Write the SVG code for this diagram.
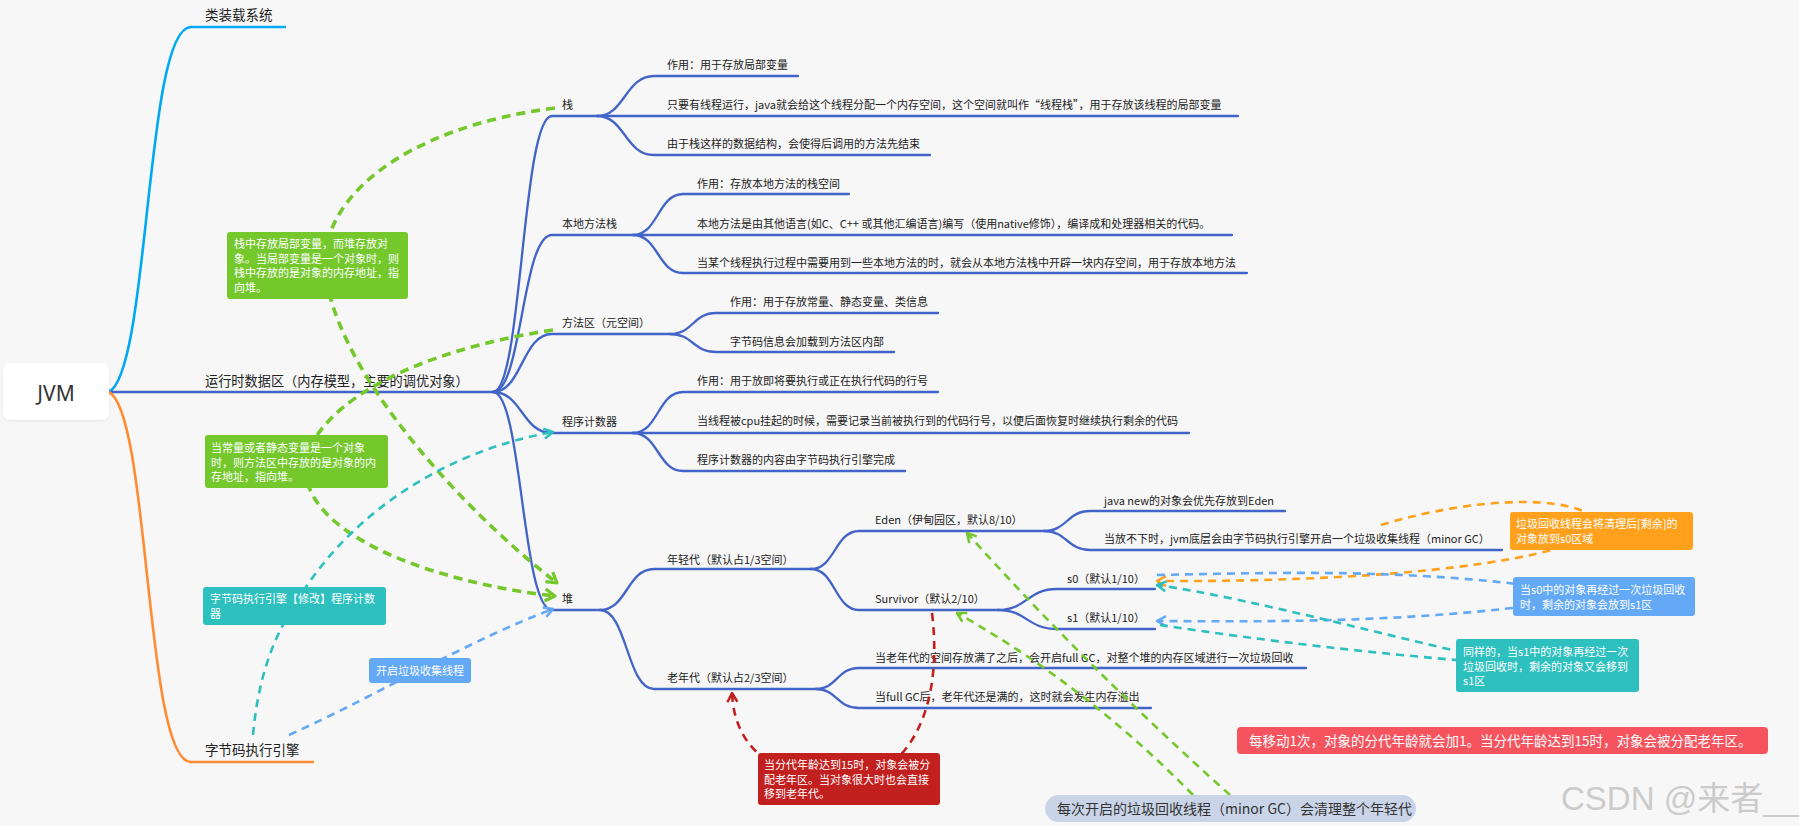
<svg xmlns="http://www.w3.org/2000/svg" width="1799" height="826" viewBox="0 0 1799 826">
<style>
text{font-family:"Noto Sans CJK SC","Noto Sans",sans-serif;fill:#222}
.l1{font-size:13.5px}
.l2{font-size:11px}
.nt{font-size:11px;fill:#fff}
.br{fill:none;stroke:#4264c8;stroke-width:2.3;stroke-linecap:round}
.rel{fill:none;stroke-width:2.6;stroke-dasharray:8 6}
.g{stroke:#74c82c}
.gt{stroke:#74c82c;stroke-width:3.6;stroke-dasharray:9 6}
.tl{stroke:#2ebfbf}
.lb{stroke:#63a9f6}
.rd{stroke:#c21f1f}
.or{stroke:#ffa11c}
</style>
<defs>
<marker id="mg" viewBox="0 0 16 16" refX="13" refY="8" markerWidth="16" markerHeight="16" markerUnits="userSpaceOnUse" orient="auto"><path d="M3,2 L13,8 L3,14" fill="none" stroke="#74c82c" stroke-width="3.2" stroke-linejoin="round"/></marker>
<marker id="mg2" viewBox="0 0 14 14" refX="12" refY="7" markerWidth="14" markerHeight="14" markerUnits="userSpaceOnUse" orient="auto"><path d="M3,2 L12,7 L3,12" fill="none" stroke="#74c82c" stroke-width="2.5" stroke-linejoin="round"/></marker>
<marker id="mt" viewBox="0 0 14 14" refX="12" refY="7" markerWidth="14" markerHeight="14" markerUnits="userSpaceOnUse" orient="auto"><path d="M3,2 L12,7 L3,12" fill="none" stroke="#2ebfbf" stroke-width="2.5" stroke-linejoin="round"/></marker>
<marker id="mb" viewBox="0 0 14 14" refX="12" refY="7" markerWidth="14" markerHeight="14" markerUnits="userSpaceOnUse" orient="auto"><path d="M3,2 L12,7 L3,12" fill="none" stroke="#63a9f6" stroke-width="2.5" stroke-linejoin="round"/></marker>
<marker id="mr" viewBox="0 0 14 14" refX="12" refY="7" markerWidth="14" markerHeight="14" markerUnits="userSpaceOnUse" orient="auto"><path d="M3,2 L12,7 L3,12" fill="none" stroke="#c21f1f" stroke-width="2.5" stroke-linejoin="round"/></marker>
<marker id="mo" viewBox="0 0 14 14" refX="12" refY="7" markerWidth="14" markerHeight="14" markerUnits="userSpaceOnUse" orient="auto"><path d="M3,2 L12,7 L3,12" fill="none" stroke="#ffa11c" stroke-width="2.5" stroke-linejoin="round"/></marker>
<filter id="sh" x="-10%" y="-10%" width="120%" height="130%"><feDropShadow dx="0" dy="1" stdDeviation="1.2" flood-color="#000" flood-opacity="0.08"/></filter>
</defs>
<rect x="0" y="0" width="1799" height="826" fill="#f7f7f7"/>

<g id="connectors">
<path d="M109,392 C150,370 145,27 191,27 L286,27" fill="none" stroke="#00a9f2" stroke-width="2.6"/>
<path d="M109,392 L493,392" class="br" stroke-width="2.6"/>
<path d="M109,392 C150,414 145,762 191,762 L314,762" fill="none" stroke="#ff8b33" stroke-width="2.6"/>
<path d="M493,392 C522,392 522,116 552,116 L597,116" class="br"/>
<path d="M493,392 C522,392 522,235 552,235 L633,235" class="br"/>
<path d="M493,392 C522,392 522,334 552,334 L670,334" class="br"/>
<path d="M493,392 C522,392 522,433 552,433 L633,433" class="br"/>
<path d="M493,392 C522,392 522,610 552,610 L600,610" class="br"/>
<path d="M597,116 C625,116 625,76 654,76 L798,76" class="br"/>
<path d="M597,116 L1238,116" class="br"/>
<path d="M597,116 C625,116 625,155 654,155 L930,155" class="br"/>
<path d="M633,235 C658,235 658,194 683,194 L849,194" class="br"/>
<path d="M633,235 L1232,235" class="br"/>
<path d="M633,235 C658,235 658,273 683,273 L1247,273" class="br"/>
<path d="M670,334 C693,334 693,313 716,313 L938,313" class="br"/>
<path d="M670,334 C693,334 693,352 716,352 L894,352" class="br"/>
<path d="M633,433 C658,433 658,392 683,392 L938,392" class="br"/>
<path d="M633,433 L1189,433" class="br"/>
<path d="M633,433 C658,433 658,471 683,471 L905,471" class="br"/>
<path d="M600,610 C627,610 627,569 654,569 L811,569" class="br"/>
<path d="M600,610 C627,610 627,689 654,689 L816,689" class="br"/>
<path d="M811,569 C835,569 835,531 859,531 L1044,531" class="br"/>
<path d="M811,569 C835,569 835,610 859,610 L998,610" class="br"/>
<path d="M816,689 C837,689 837,668 859,668 L1306,668" class="br"/>
<path d="M816,689 C837,689 837,708 859,708 L1151,708" class="br"/>
<path d="M1044,531 C1067,531 1067,511 1090,511 L1285,511" class="br"/>
<path d="M1044,531 C1067,531 1067,550 1090,550 L1502,550" class="br"/>
<path d="M998,610 C1027,610 1027,589 1057,589 L1155,589" class="br"/>
<path d="M998,610 C1027,610 1027,629 1057,629 L1155,629" class="br"/>
</g>

<g id="n-jvm"><rect x="3" y="363" width="106" height="57" rx="7" fill="#fff" filter="url(#sh)"/><text x="56" y="401" font-size="21" text-anchor="middle" style="font-family:'Noto Sans','Liberation Sans',sans-serif;fill:#333">JVM</text></g>
<g id="n-classload"><text class="l1" x="205" y="20">类装载系统</text></g>
<g id="n-runtime"><text class="l1" x="205" y="386" style="font-size:13.2px">运行时数据区（内存模型，主要的调优对象）</text></g>
<g id="n-engine"><text class="l1" x="205" y="755">字节码执行引擎</text></g>
<g id="n-stack"><text class="l2" x="562" y="109">栈</text></g>
<g id="n-native"><text class="l2" x="562" y="228">本地方法栈</text></g>
<g id="n-method"><text class="l2" x="562" y="327">方法区（元空间）</text></g>
<g id="n-pc"><text class="l2" x="562" y="426">程序计数器</text></g>
<g id="n-heap"><text class="l2" x="562" y="603">堆</text></g>
<g id="n-s1"><text class="l2" x="667" y="69">作用：用于存放局部变量</text></g>
<g id="n-s2"><text class="l2" x="667" y="109">只要有线程运行，java就会给这个线程分配一个内存空间，这个空间就叫作“线程栈”，用于存放该线程的局部变量</text></g>
<g id="n-s3"><text class="l2" x="667" y="148">由于栈这样的数据结构，会使得后调用的方法先结束</text></g>
<g id="n-na1"><text class="l2" x="697" y="188">作用：存放本地方法的栈空间</text></g>
<g id="n-na2"><text class="l2" x="697" y="228">本地方法是由其他语言(如C、C++ 或其他汇编语言)编写（使用native修饰），编译成和处理器相关的代码。</text></g>
<g id="n-na3"><text class="l2" x="697" y="267">当某个线程执行过程中需要用到一些本地方法的时，就会从本地方法栈中开辟一块内存空间，用于存放本地方法</text></g>
<g id="n-m1"><text class="l2" x="730" y="306">作用：用于存放常量、静态变量、类信息</text></g>
<g id="n-m2"><text class="l2" x="730" y="346">字节码信息会加载到方法区内部</text></g>
<g id="n-p1"><text class="l2" x="697" y="385">作用：用于放即将要执行或正在执行代码的行号</text></g>
<g id="n-p2"><text class="l2" x="697" y="425">当线程被cpu挂起的时候，需要记录当前被执行到的代码行号，以便后面恢复时继续执行剩余的代码</text></g>
<g id="n-p3"><text class="l2" x="697" y="464">程序计数器的内容由字节码执行引擎完成</text></g>
<g id="n-young"><text class="l2" x="667" y="564">年轻代（默认占1/3空间）</text></g>
<g id="n-old"><text class="l2" x="667" y="682">老年代（默认占2/3空间）</text></g>
<g id="n-eden"><text class="l2" x="875" y="524">Eden（伊甸园区，默认8/10）</text></g>
<g id="n-surv"><text class="l2" x="875" y="603">Survivor（默认2/10）</text></g>
<g id="n-o1"><text class="l2" x="875" y="662">当老年代的空间存放满了之后，会开启full GC，对整个堆的内存区域进行一次垃圾回收</text></g>
<g id="n-o2"><text class="l2" x="875" y="701">当full GC后，老年代还是满的，这时就会发生内存溢出</text></g>
<g id="n-e1"><text class="l2" x="1104" y="505">java new的对象会优先存放到Eden</text></g>
<g id="n-e2"><text class="l2" x="1104" y="543">当放不下时，jvm底层会由字节码执行引擎开启一个垃圾收集线程（minor GC）</text></g>
<g id="n-s0"><text class="l2" x="1067" y="583">s0（默认1/10）</text></g>
<g id="n-s1b"><text class="l2" x="1067" y="622">s1（默认1/10）</text></g>

<g id="relations">
<path class="rel gt" d="M555,108 C400,128 322,200 325,266 C330,360 450,500 557,583" marker-end="url(#mg)"/>
<path class="rel gt" d="M553,330 C420,350 320,400 305,462 C300,540 450,585 555,596" marker-end="url(#mg)"/>
<path class="rel tl" d="M253,735 C258,680 272,640 294,606 C350,510 450,450 553,432" marker-end="url(#mt)"/>
<path class="rel lb" d="M289,735 C340,712 380,690 420,670 C470,645 510,625 553,609" marker-end="url(#mb)"/>
<path class="rel rd" d="M932,613 C945,720 900,780 845,780 C790,780 735,760 732,693" marker-end="url(#mr)"/>
<path class="rel or" d="M1381,525 C1480,495 1590,492 1605,530 C1540,568 1350,582 1157,581" marker-end="url(#mo)"/>
<path class="rel lb" d="M1157,575 C1300,572 1440,568 1600,596 C1440,622 1300,622 1157,621" marker-end="url(#mb)"/>
<path class="rel tl" d="M1160,625 C1260,640 1380,655 1520,665 C1400,640 1260,600 1157,585" marker-end="url(#mt)"/>
<path class="rel g" d="M1230,795 Q1090,670 967,533" marker-end="url(#mg2)"/>
<path class="rel g" d="M1193,795 Q1085,685 957,613" marker-end="url(#mg2)"/>
</g>

<g id="note-stack"><rect x="227" y="232" width="181" height="67" rx="3" fill="#74c82c"/><text class="nt"><tspan x="234" y="248">栈中存放局部变量，而堆存放对</tspan><tspan x="234" y="262.5">象。当局部变量是一个对象时，则</tspan><tspan x="234" y="277">栈中存放的是对象的内存地址，指</tspan><tspan x="234" y="291.5">向堆。</tspan></text></g>
<g id="note-method"><rect x="205" y="435" width="183" height="53" rx="3" fill="#74c82c"/><text class="nt"><tspan x="211" y="452">当常量或者静态变量是一个对象</tspan><tspan x="211" y="466.5">时，则方法区中存放的是对象的内</tspan><tspan x="211" y="481">存地址，指向堆。</tspan></text></g>
<g id="note-pc"><rect x="203" y="587" width="183" height="38" rx="3" fill="#2ebfbf"/><text class="nt"><tspan x="210" y="603">字节码执行引擎【修改】程序计数</tspan><tspan x="210" y="618">器</tspan></text></g>
<g id="note-gc"><rect x="369" y="658" width="102" height="25" rx="3" fill="#63a9f6"/><text class="nt" x="376" y="675">开启垃圾收集线程</text></g>
<g id="note-age"><rect x="758" y="753" width="182" height="52" rx="3" fill="#c21f1f"/><text class="nt"><tspan x="764" y="769">当分代年龄达到15时，对象会被分</tspan><tspan x="764" y="783.5">配老年区。当对象很大时也会直接</tspan><tspan x="764" y="798">移到老年代。</tspan></text></g>
<g id="note-s0"><rect x="1510" y="512" width="183" height="38" rx="3" fill="#ffa11c"/><text class="nt"><tspan x="1516" y="528">垃圾回收线程会将清理后[剩余]的</tspan><tspan x="1516" y="543">对象放到s0区域</tspan></text></g>
<g id="note-s1"><rect x="1513" y="577" width="182" height="39" rx="3" fill="#63a9f6"/><text class="nt"><tspan x="1520" y="594">当s0中的对象再经过一次垃圾回收</tspan><tspan x="1520" y="608.5">时，剩余的对象会放到s1区</tspan></text></g>
<g id="note-s1b"><rect x="1456" y="639" width="183" height="53" rx="3" fill="#2ebfbf"/><text class="nt"><tspan x="1463" y="656">同样的，当s1中的对象再经过一次</tspan><tspan x="1463" y="670.5">垃圾回收时，剩余的对象又会移到</tspan><tspan x="1463" y="685">s1区</tspan></text></g>
<g id="note-banner"><rect x="1237" y="727" width="531" height="27" rx="4" fill="#f5535e"/><text x="1249" y="746" style="font-size:13.5px;fill:#fff">每移动1次，对象的分代年龄就会加1。当分代年龄达到15时，对象会被分配老年区。</text></g>
<g id="note-minor"><rect x="1045" y="795" width="371" height="27" rx="13.5" fill="#c9d4e8"/><text x="1057" y="814" style="font-size:14px;fill:#333">每次开启的垃圾回收线程（minor GC）会清理整个年轻代</text></g>
<g id="watermark"><text x="1561" y="810" style="font-family:'Liberation Sans','Noto Sans CJK SC',sans-serif;font-size:33px;fill:#cbcbcb">CSDN @来者__</text></g>
</svg>
